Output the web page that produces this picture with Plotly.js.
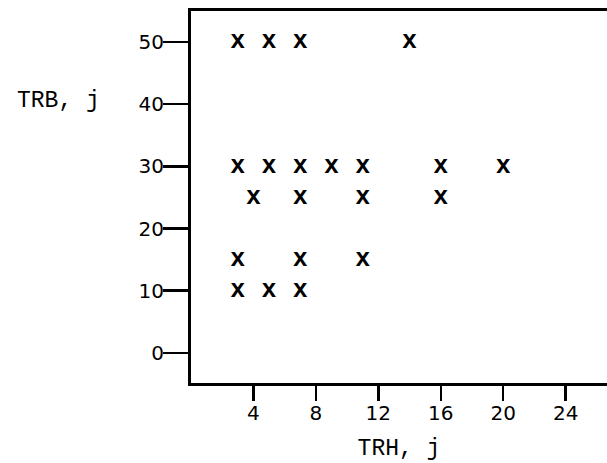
<!DOCTYPE html>
<html>
<head>
<meta charset="utf-8">
<script src="https://cdn.plot.ly/plotly-3.0.1.min.js"></script>
<style>html,body{margin:0;padding:0;background:#fff;}#chart{width:607px;height:463px;}</style>
</head>
<body>
<div id="chart"></div>
<script>
// TRH (x) and TRB (y) values
const trhValues = [3, 5, 7, 14, 3, 5, 7, 9, 11, 16, 20, 4, 7, 11, 16, 3, 7, 11, 3, 5, 7];
const trbValues = [50, 50, 50, 50, 30, 30, 30, 30, 30, 30, 30, 25, 25, 25, 25, 15, 15, 15, 10, 10, 10];
const xTickVals = [4, 8, 12, 16, 20, 24];
const yTickVals = [0, 10, 20, 30, 40, 50];
const xTitle = "TRH, j";
const yTitle = "TRB, j";

const trace = {
  x: trhValues,
  y: trbValues,
  type: 'scatter',
  mode: 'text',
  text: trhValues.map(() => 'x'),
  textposition: 'middle center',
  textfont: {family: 'Liberation Mono', size: 25, color: '#000', weight: 'bold'},
  hoverinfo: 'x+y',
  showlegend: false
};

const layout = {
  width: 607, height: 463,
  margin: {l: 191, r: 0, t: 11, b: 80, pad: 0},
  paper_bgcolor: '#fff', plot_bgcolor: '#fff',
  showlegend: false,
  xaxis: {
    range: [0, 26.65],
    tickvals: xTickVals,
    ticktext: xTickVals.map(String),
    ticks: 'outside', ticklen: 15, tickwidth: 2.5, tickcolor: '#000',
    ticklabelstandoff: -5,
    showline: true, linewidth: 3, linecolor: '#000', mirror: true,
    showgrid: false, zeroline: false,
    tickfont: {family: 'DejaVu Sans', size: 20, color: '#000'},
    title: {text: xTitle, font: {family: 'Liberation Mono', size: 23, color: '#000'}, standoff: 15}
  },
  yaxis: {
    range: [-4.85, 55],
    tickvals: yTickVals,
    ticktext: yTickVals.map(String),
    ticks: 'outside', ticklen: 25, tickwidth: 2.5, tickcolor: '#000',
    ticklabelstandoff: -5,
    showline: true, linewidth: 3, linecolor: '#000', mirror: false,
    showgrid: false, zeroline: false,
    tickfont: {family: 'DejaVu Sans', size: 20, color: '#000'}
  },
  annotations: [{
    text: yTitle, xref: 'paper', yref: 'paper',
    x: (58 - 191) / 416, y: (383 - 101) / 372,
    xanchor: 'center', yanchor: 'middle', showarrow: false,
    font: {family: 'Liberation Mono', size: 23, color: '#000'}
  }]
};

Plotly.newPlot('chart', [trace], layout, {staticPlot: true, displayModeBar: false});
</script>
</body>
</html>
